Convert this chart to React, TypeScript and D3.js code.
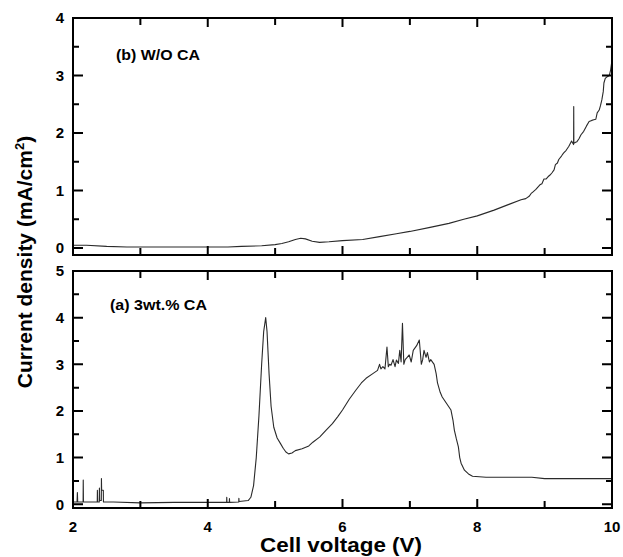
import React, { useEffect, useRef } from 'react';
import * as d3 from 'd3';

// (b) W/O CA  - upper panel
const voltageB = [2.0, 2.2, 2.5, 2.8, 3.0, 3.5, 4.0, 4.3, 4.5, 4.8, 5.0, 5.1, 5.2, 5.3, 5.38, 5.45, 5.55, 5.66, 5.8, 6.0, 6.3, 6.55, 6.8, 7.0, 7.3, 7.58, 7.8, 8.0, 8.25, 8.47, 8.65, 8.72, 8.77, 8.8, 8.82, 8.87, 8.9, 8.93, 8.96, 8.99, 9.02, 9.05, 9.08, 9.11, 9.14, 9.16, 9.19, 9.21, 9.25, 9.28, 9.32, 9.36, 9.4, 9.43, 9.432, 9.434, 9.46, 9.48, 9.51, 9.54, 9.58, 9.62, 9.66, 9.7, 9.73, 9.76, 9.78, 9.81, 9.83, 9.85, 9.87, 9.88, 9.9, 9.93, 9.96, 9.98, 10.0];
const currentB = [0.05, 0.05, 0.03, 0.02, 0.02, 0.02, 0.02, 0.02, 0.03, 0.04, 0.06, 0.08, 0.11, 0.15, 0.17, 0.16, 0.12, 0.1, 0.11, 0.13, 0.15, 0.2, 0.25, 0.29, 0.36, 0.43, 0.5, 0.56, 0.66, 0.76, 0.84, 0.86, 0.9, 0.95, 0.97, 1.02, 1.06, 1.1, 1.12, 1.2, 1.2, 1.24, 1.27, 1.31, 1.36, 1.45, 1.48, 1.54, 1.6, 1.65, 1.7, 1.77, 1.86, 1.8, 2.46, 1.82, 1.84, 1.85, 1.9, 1.97, 2.03, 2.12, 2.2, 2.22, 2.23, 2.24, 2.35, 2.4, 2.48, 2.58, 2.72, 2.87, 2.95, 2.98, 3.0, 3.1, 3.27];

// (a) 3wt.% CA - lower panel
const voltageA = [2.0, 2.06, 2.065, 2.07, 2.15, 2.152, 2.155, 2.36, 2.362, 2.365, 2.39, 2.392, 2.395, 2.42, 2.422, 2.425, 2.45, 2.452, 2.6, 3.0, 3.5, 4.0, 4.28, 4.282, 4.285, 4.32, 4.322, 4.325, 4.46, 4.462, 4.465, 4.6, 4.64, 4.68, 4.72, 4.76, 4.8, 4.83, 4.86, 4.88, 4.91, 4.94, 4.98, 5.03, 5.08, 5.12, 5.16, 5.2, 5.25, 5.3, 5.4, 5.5, 5.56, 5.66, 5.75, 5.85, 5.93, 6.0, 6.1, 6.2, 6.28, 6.35, 6.45, 6.52, 6.55, 6.57, 6.6, 6.63, 6.66, 6.68, 6.7, 6.72, 6.75, 6.78, 6.8, 6.83, 6.85, 6.87, 6.89, 6.91, 6.93, 6.96, 6.99, 7.02, 7.05, 7.1, 7.14, 7.17, 7.19, 7.21, 7.24, 7.26, 7.29, 7.31, 7.36, 7.39, 7.41, 7.45, 7.48, 7.55, 7.61, 7.64, 7.66, 7.69, 7.72, 7.74, 7.76, 7.81, 7.87, 7.93, 8.13, 8.5, 8.81, 9.0, 9.5, 10.0];
const currentA = [0.05, 0.05, 0.25, 0.05, 0.05, 0.52, 0.05, 0.05, 0.3, 0.05, 0.05, 0.35, 0.08, 0.08, 0.55, 0.3, 0.3, 0.05, 0.05, 0.03, 0.04, 0.04, 0.04, 0.15, 0.04, 0.04, 0.12, 0.04, 0.05, 0.13, 0.06, 0.08, 0.15, 0.4, 1.0, 1.9, 3.0, 3.7, 4.0, 3.7, 2.8, 2.1, 1.65, 1.42, 1.3, 1.2, 1.12, 1.08, 1.1, 1.15, 1.19, 1.25, 1.33, 1.44, 1.58, 1.73, 1.88, 2.02, 2.25, 2.45, 2.6, 2.7, 2.8, 2.87, 3.0, 2.9, 2.95, 2.9, 3.37, 2.95, 3.0, 2.98, 3.1, 2.95, 3.09, 3.02, 3.3, 3.05, 3.88, 3.0, 3.1, 3.15, 3.2, 3.05, 3.3, 3.4, 3.52, 3.0, 3.1, 3.3, 3.15, 3.25, 3.05, 3.1, 3.0, 2.8, 2.6, 2.4, 2.3, 2.15, 2.02, 1.8, 1.59, 1.4, 1.23, 1.0, 0.88, 0.73, 0.65, 0.6, 0.58, 0.58, 0.58, 0.55, 0.55, 0.55];

const xTicks = [2, 3, 4, 5, 6, 7, 8, 9, 10];
const xTickLabels = [2, 4, 6, 8, 10];
const yTicksB = [0, 0.5, 1, 1.5, 2, 2.5, 3, 3.5, 4];
const yTicksA = [0, 0.5, 1, 1.5, 2, 2.5, 3, 3.5, 4, 4.5, 5];

const font = '"Liberation Sans", Arial, sans-serif';
const left = 73;
const right = 612;

const App = () => {
  const ref = useRef<SVGSVGElement>(null);

  useEffect(() => {
    const svg = d3.select(ref.current);
    svg.selectAll('*').remove();

    svg.append('rect').attr('width', 623).attr('height', 557).attr('fill', '#fff');

    const x = d3.scaleLinear().domain([2, 10]).range([left, right]);

    const drawPanel = (top, bottom, yMin, yMax, ticks, xs, ys, label, labelX, labelY, labelLen, showXLabels) => {
      const y = d3.scaleLinear().domain([yMin, yMax]).range([bottom, top]);
      const g = svg.append('g');

      const line = d3.line<number>()
        .x((_, i) => x(xs[i]))
        .y(d => y(d));

      g.append('path')
        .attr('d', line(ys))
        .attr('fill', 'none')
        .attr('stroke', '#2a2a2a')
        .attr('stroke-width', 1.1)
        .attr('stroke-linejoin', 'round');

      // frame and inward ticks on all four sides
      const frame = d3.path();
      frame.rect(left, top, right - left, bottom - top);
      ticks.forEach(t => {
        const len = Number.isInteger(t) ? 10 : 6;
        frame.moveTo(left, y(t)); frame.lineTo(left + len, y(t));
        frame.moveTo(right, y(t)); frame.lineTo(right - len, y(t));
      });
      xTicks.forEach(t => {
        const len = t % 2 === 0 ? 9 : 7;
        frame.moveTo(x(t), top); frame.lineTo(x(t), top + len);
        frame.moveTo(x(t), bottom); frame.lineTo(x(t), bottom - len);
      });
      g.append('path')
        .attr('d', frame.toString())
        .attr('fill', 'none')
        .attr('stroke', '#000')
        .attr('stroke-width', 2);

      g.selectAll('.ylab')
        .data(ticks.filter(t => Number.isInteger(t)))
        .enter().append('text')
        .attr('x', left - 9)
        .attr('y', d => y(d))
        .attr('dy', '0.36em')
        .attr('text-anchor', 'end')
        .attr('font-size', 15).attr('font-weight', 'bold').attr('font-family', font)
        .text(d => d);

      if (showXLabels) {
        g.selectAll('.xlab')
          .data(xTickLabels)
          .enter().append('text')
          .attr('x', d => x(d))
          .attr('y', bottom + 24)
          .attr('text-anchor', 'middle')
          .attr('font-size', 15).attr('font-weight', 'bold').attr('font-family', font)
          .text(d => d);
      }

      g.append('text')
        .attr('x', labelX).attr('y', labelY)
        .attr('font-size', 14).attr('font-weight', 'bold').attr('font-family', font)
        .attr('textLength', labelLen).attr('lengthAdjust', 'spacingAndGlyphs')
        .text(label);
    };

    drawPanel(18, 255, -0.12, 4, yTicksB, voltageB, currentB, '(b) W/O CA', 116, 60, 84, false);
    drawPanel(271, 508, -0.08, 5, yTicksA, voltageA, currentA, '(a) 3wt.% CA', 110, 310, 97, true);

    // axis titles
    const yTitle = svg.append('text')
      .attr('transform', 'translate(32,262) rotate(-90)')
      .attr('text-anchor', 'middle')
      .attr('font-size', 21).attr('font-weight', 'bold').attr('font-family', font);
    yTitle.append('tspan').text('Current density (mA/cm');
    yTitle.append('tspan').attr('dy', -8).attr('font-size', 13).text('2');
    yTitle.append('tspan').attr('dy', 8).text(')');

    svg.append('text')
      .attr('x', 341).attr('y', 552)
      .attr('text-anchor', 'middle')
      .attr('font-size', 20).attr('font-weight', 'bold').attr('font-family', font)
      .attr('textLength', 162).attr('lengthAdjust', 'spacingAndGlyphs')
      .text('Cell voltage (V)');
  }, []);

  return (
    <svg ref={ref} width={623} height={557} style={{ display: 'block', position: 'absolute', left: 0, top: 0 }} />
  );
};

export default App;
